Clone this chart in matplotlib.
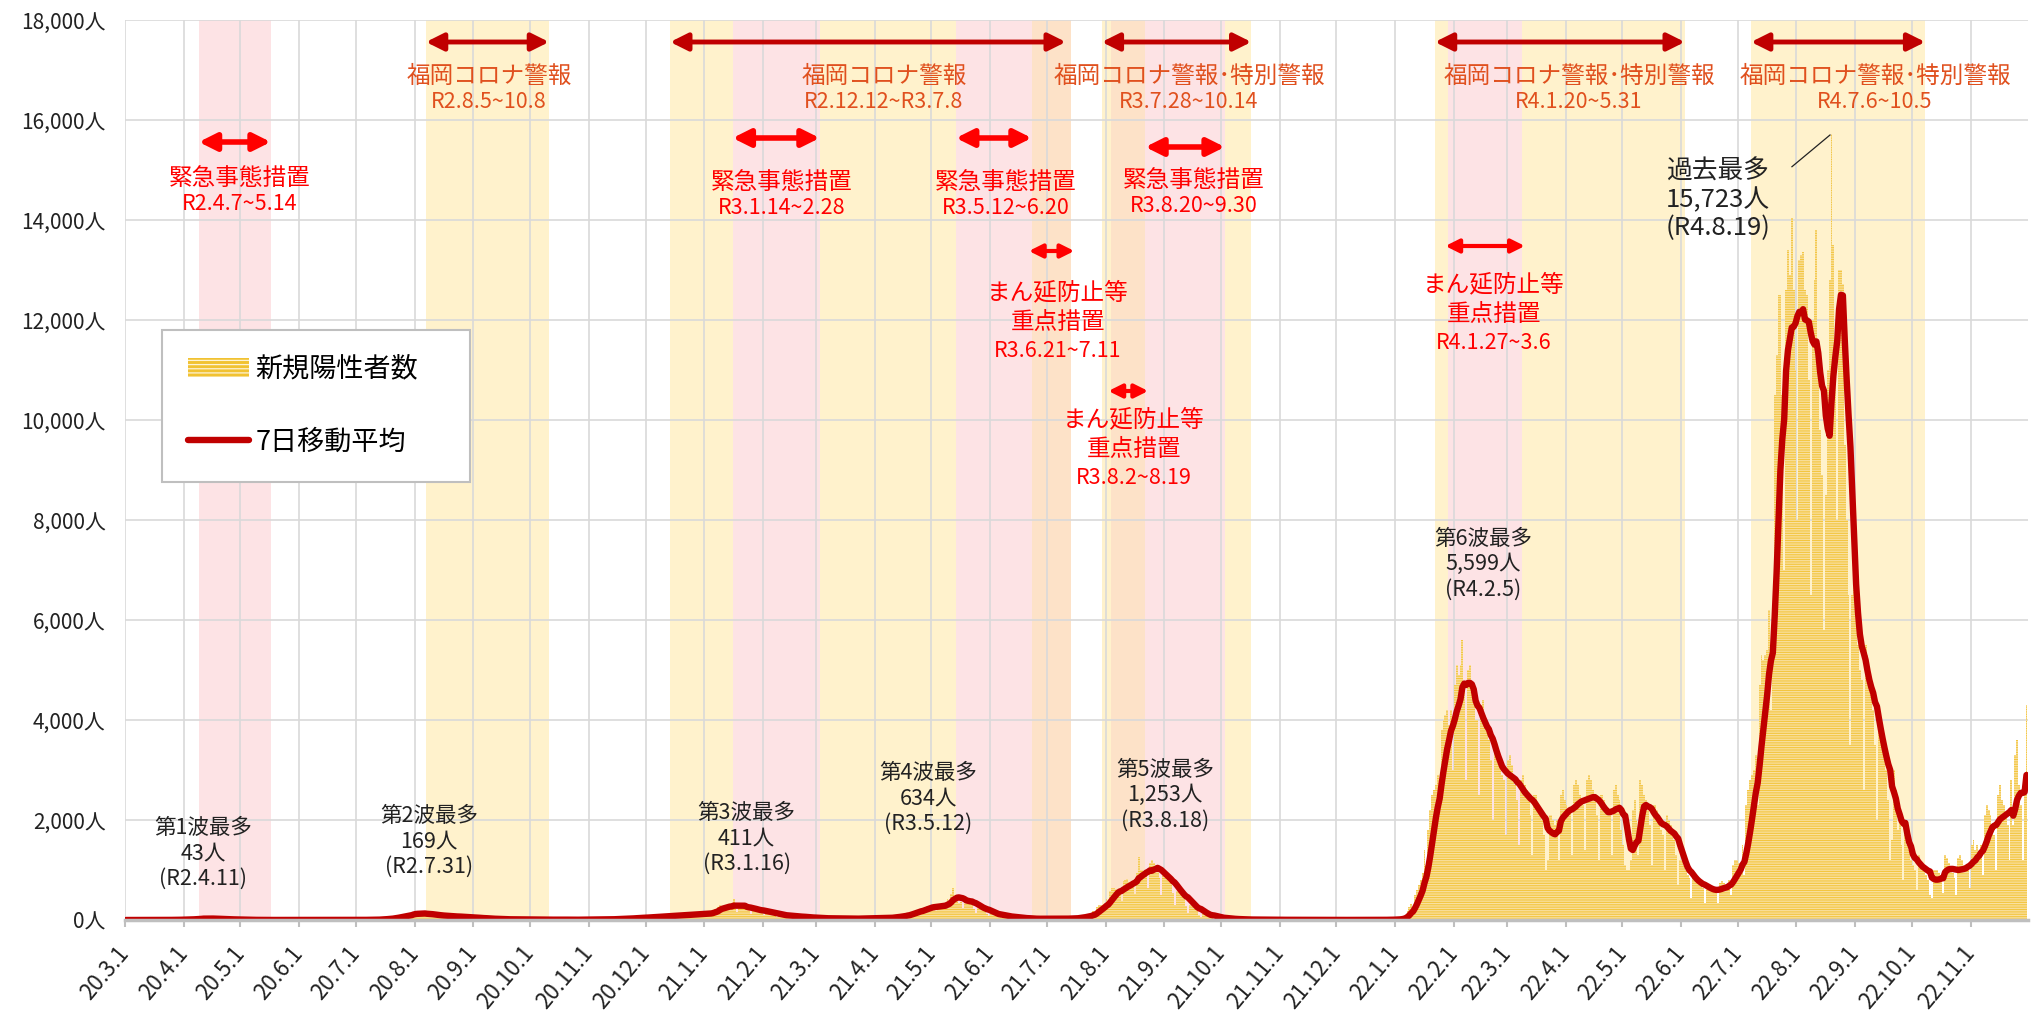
import matplotlib
matplotlib.use("Agg")
import matplotlib.pyplot as plt
import matplotlib.patches as mpatches
import matplotlib.lines as mlines
import numpy as np
import pandas as pd

plt.rcParams['font.family'] = ['Noto Sans CJK JP', 'DejaVu Sans']
plt.rcParams['hatch.linewidth'] = 0.9

# daily new cases (Sun..Sat rows)
cases_2020 = [
    0, 0, 0, 1, 1, 2, 1,            # 3/1~
    0, 0, 1, 2, 1, 1, 2,
    1, 0, 2, 1, 2, 1, 2,
    2, 1, 3, 4, 3, 5, 6,
    8, 5, 10, 12, 13, 12, 14,       # 3/29~
    20, 12, 25, 30, 28, 32, 43,
    25, 15, 28, 30, 27, 26, 24,
    18, 10, 16, 18, 15, 14, 13,
    10, 4, 9, 10, 8, 7, 8,
    4, 1, 3, 4, 2, 3, 2,            # 5/3~
    1, 0, 1, 2, 1, 1, 0,
    1, 0, 1, 1, 0, 1, 1,
    0, 0, 1, 0, 1, 0, 1,
    2, 1, 3, 3, 2, 2, 1,            # 5/31~
    1, 0, 1, 1, 2, 1, 1,
    0, 0, 1, 0, 1, 1, 0,
    1, 0, 1, 1, 2, 1, 1,
    2, 1, 2, 3, 2, 3, 3,            # 6/28~
    4, 2, 5, 6, 6, 7, 8,
    12, 8, 18, 22, 25, 26, 30,
    40, 30, 55, 65, 70, 75, 80,
    90, 70, 110, 130, 125, 169, 140,  # 7/26~
    120, 80, 130, 140, 135, 130, 125,
    95, 60, 100, 105, 100, 95, 90,
    75, 45, 80, 85, 80, 75, 70,
    60, 40, 65, 70, 65, 60, 60,
    45, 25, 45, 50, 45, 40, 38,     # 8/30~
    28, 15, 28, 30, 28, 25, 24,
    17, 9, 18, 18, 16, 15, 14,
    11, 6, 12, 12, 11, 10, 9,
    9, 5, 9, 10, 9, 8, 8,           # 9/27~
    6, 4, 7, 7, 6, 6, 6,
    8, 5, 9, 9, 8, 9, 8,
    5, 3, 6, 6, 5, 5, 5,
    8, 5, 9, 9, 9, 8, 8,
    10, 6, 11, 12, 11, 10, 10,      # 11/1~
    15, 9, 16, 18, 17, 16, 15,
    25, 15, 27, 30, 28, 27, 26,
    40, 25, 45, 48, 45, 43, 42,
    55, 35, 60, 65, 62, 60, 58,     # 11/29~
    70, 45, 75, 85, 80, 78, 75,
    90, 60, 95, 105, 100, 98, 95,
    105, 70, 110, 125, 120, 115, 115,
    120, 80, 130, 140, 135,         # 12/27~12/31
]

cases_2021 = [
    130, 125,                                   # 1/1~1/2
    150, 100, 180, 220, 230, 260, 300,          # 1/3~
    280, 180, 270, 300, 290, 280, 411,
    280, 170, 280, 300, 290, 270, 260,
    210, 130, 220, 240, 220, 200, 190,
    160, 100, 165, 180, 165, 150, 140,          # 1/31~
    100, 60, 100, 115, 105, 95, 90,
    75, 45, 75, 85, 78, 72, 70,
    52, 32, 55, 60, 56, 52, 50,
    37, 22, 38, 42, 40, 36, 35,                 # 2/28~
    31, 18, 32, 36, 34, 31, 30,
    26, 15, 27, 30, 28, 26, 25,
    31, 18, 32, 36, 34, 31, 30,
    36, 21, 38, 42, 40, 36, 35,                 # 3/28~
    46, 27, 48, 54, 50, 46, 44,
    75, 45, 85, 95, 90, 85, 85,
    140, 90, 165, 185, 180, 175, 185,
    230, 150, 260, 290, 270, 265, 285,          # 4/25~
    280, 180, 290, 330, 310, 300, 310,
    420, 300, 520, 634, 480, 460, 350,
    370, 240, 400, 440, 420, 400, 320,
    230, 150, 250, 280, 260, 240, 200,
    120, 80, 130, 150, 135, 125, 100,           # 5/30~
    70, 45, 75, 85, 80, 75, 60,
    40, 25, 45, 50, 45, 40, 35,
    25, 15, 28, 30, 28, 26, 24,
    25, 15, 27, 30, 28, 25, 24,                 # 6/27~
    25, 15, 27, 30, 28, 26, 24,
    35, 20, 38, 42, 40, 37, 33,
    70, 40, 85, 95, 100, 90, 80,
    180, 120, 260, 300, 310, 300, 280,          # 7/25~
    420, 300, 580, 650, 640, 620, 600,
    600, 380, 780, 800, 830, 770, 740,
    780, 520, 950, 1253, 1000, 1000, 900,
    1000, 650, 1150, 1200, 1150, 1100, 1050,
    850, 500, 900, 950, 900, 850, 800,          # 8/29~
    550, 300, 580, 600, 560, 520, 480,
    280, 150, 300, 310, 280, 250, 220,
    110, 60, 120, 130, 115, 100, 90,
    50, 25, 55, 55, 50, 45, 40,                 # 9/26~
    22, 12, 25, 25, 22, 20, 18,
    11, 6, 12, 12, 11, 10, 9,
    7, 3, 7, 8, 7, 6, 6,
    5, 2, 5, 6, 5, 5, 4,                        # 10/24~
    4, 2, 4, 5, 4, 4, 3,
    3, 1, 4, 4, 3, 3, 3,
    2, 1, 3, 3, 2, 2, 2,
    2, 1, 2, 3, 2, 2, 2,                        # 11/21~
    1, 1, 2, 2, 1, 1, 2,
    2, 1, 2, 2, 2, 1, 1,
    2, 1, 2, 3, 2, 2, 2,
    3, 2, 3, 4, 3, 3, 3,                        # 12/19~
    5, 3, 6, 8, 9, 12,                          # 12/26~12/31
]

cases_2022 = [
    15,                                                   # 1/1
    20, 15, 35, 60, 100, 180, 260,                        # 1/2~
    330, 250, 500, 600, 700, 800, 950,
    1400, 1100, 1800, 2200, 2500, 2600, 2700,
    2900, 2300, 3800, 4000, 4100, 4200, 3900,
    4200, 3000, 4700, 5100, 4900, 5100, 5599,             # 1/30~
    4700, 2800, 5000, 5100, 4700, 4400, 4000,
    4000, 2500, 4300, 4400, 4100, 3800, 3600,
    3200, 2000, 3500, 3500, 3300, 3100, 2900,
    2800, 1700, 3200, 3300, 3100, 2900, 2700,             # 2/27~
    2400, 1500, 2800, 2900, 2700, 2600, 2400,
    2100, 1300, 2500, 2500, 2300, 2200, 2000,
    1700, 1000, 1200, 2100, 2100, 2000, 1900,
    2000, 1200, 2500, 2600, 2400, 2300, 2200,             # 3/27~
    2200, 1300, 2700, 2800, 2700, 2500, 2400,
    2300, 1400, 2800, 2900, 2800, 2600, 2400,
    2100, 1200, 2500, 2500, 2400, 2300, 2100,
    2100, 1300, 2600, 2700, 2500, 2400, 1800,             # 4/24~
    1500, 1100, 1000, 1000, 1200, 2200, 2400,
    2000, 1300, 2800, 2700, 2500, 2400, 2200,
    1900, 1100, 2300, 2300, 2200, 2000, 1800,
    1700, 1000, 2100, 2000, 1900, 1800, 1600,
    1300, 700, 1200, 1200, 1100, 1000, 900,               # 5/29~
    850, 450, 850, 850, 800, 750, 700,
    650, 350, 700, 700, 650, 620, 600,
    600, 350, 750, 780, 750, 700, 680,
    800, 500, 1100, 1200, 1200, 1150, 1100,               # 6/26~
    1500, 900, 2300, 2600, 2800, 2900, 3000,
    3300, 2300, 4700, 5300, 5200, 5300, 5400,
    6200, 4200, 5800, 10500, 11300, 12500, 12500,
    10500, 7000, 12600, 13400, 12900, 14050, 12600,       # 7/24~
    11000, 8000, 13200, 13300, 13360, 12600, 12500,
    10800, 6500, 12000, 12800, 13800, 11000, 9800,
    8900, 5800, 8500, 11000, 12800, 15723, 13500,         # 8/14~
    11500, 8000, 13000, 13000, 12720, 9500, 8000,
    6500, 3500, 6500, 6800, 6200, 5500, 5000,             # 8/28~
    4800, 2600, 5500, 5300, 4900, 4500, 4200,
    3500, 2000, 3900, 3800, 3500, 3200, 3000,
    2400, 1200, 1600, 3000, 2600, 1800, 2200,
    1500, 800, 1700, 1500, 1400, 1200, 1100,              # 9/25~
    1000, 600, 1300, 1200, 1100, 1000, 900,
    800, 500, 450, 1000, 1000, 1000, 950,
    900, 550, 1300, 1250, 1150, 1050, 950,
    850, 500, 1250, 1300, 1200, 1100, 1050,
    1050, 650, 1500, 1600, 1400, 1500, 1300,              # 10/30~
    1500, 900, 2100, 2300, 2200, 2100, 1900,
    1700, 1000, 2500, 2700, 2400, 2300, 2100,
    1900, 1200, 2800, 1900, 3300, 3600, 2700,
    2300, 1200, 2900, 4300,                               # 11/27~11/30
]

# alert / measure periods
keiho_periods = [("2020-08-05", "2020-10-08"), ("2020-12-12", "2021-07-08"),
                 ("2021-07-28", "2021-10-14"), ("2022-01-20", "2022-05-31"),
                 ("2022-07-06", "2022-10-05")]
kinkyu_periods = [("2020-04-07", "2020-05-14"), ("2021-01-14", "2021-02-28"),
                  ("2021-05-12", "2021-06-20"), ("2021-08-20", "2021-09-30")]
manen_periods = [("2021-06-21", "2021-07-11"), ("2021-08-02", "2021-08-19"),
                 ("2022-01-27", "2022-03-06")]

keiho_titles = ["福岡コロナ警報", "福岡コロナ警報", "福岡コロナ警報･特別警報",
                "福岡コロナ警報･特別警報", "福岡コロナ警報･特別警報"]
keiho_labels = ["R2.8.5~10.8", "R2.12.12~R3.7.8", "R3.7.28~10.14",
                "R4.1.20~5.31", "R4.7.6~10.5"]
kinkyu_labels = ["R2.4.7~5.14", "R3.1.14~2.28", "R3.5.12~6.20", "R3.8.20~9.30"]
manen_labels = ["R3.6.21~7.11", "R3.8.2~8.19", "R4.1.27~3.6"]

wave_labels = ["第1波最多\n43人\n(R2.4.11)", "第2波最多\n169人\n(R2.7.31)",
               "第3波最多\n411人\n(R3.1.16)", "第4波最多\n634人\n(R3.5.12)",
               "第5波最多\n1,253人\n(R3.8.18)", "第6波最多\n5,599人\n(R4.2.5)"]
record_label = "過去最多\n15,723人\n(R4.8.19)"

start = pd.Timestamp("2020-03-01")
cases = cases_2020 + cases_2021 + cases_2022
days = np.arange(len(cases))
avg7 = pd.Series(cases, dtype=float).rolling(7, min_periods=1).mean()


def day(s):
    return (pd.Timestamp(s) - start).days


YELLOW = "#fff2cc"
PINK = "#fde3e5"
PEACH = "#fde2c8"
GOLD = "#f3c640"
HATCH = "#f9e0a0"
DARKRED = "#c00000"
RED = "#ff0000"
KEIHO_TXT = "#e0501e"
SHIFT = 2

fig = plt.figure(figsize=(20.33, 10.13), dpi=100)
ax = fig.add_axes([125 / 2033, 1 - 920 / 1013, 1903 / 2033, 900 / 1013])

# shaded periods
for s, e in keiho_periods:
    ax.axvspan(day(s) + SHIFT, day(e) + 1 + SHIFT, color=YELLOW, lw=0, zorder=0.1)
for s, e in kinkyu_periods:
    ax.axvspan(day(s) + SHIFT, day(e) + 1 + SHIFT, color=PINK, lw=0, zorder=0.2)
for i, (s, e) in enumerate(manen_periods):
    ax.axvspan(day(s) + SHIFT, day(e) + 1 + SHIFT, color=PEACH if i < 2 else PINK,
               lw=0, zorder=0.2)

ax.bar(days, cases, width=1.0, align='edge', color=GOLD, edgecolor=HATCH,
       hatch='-' * 7, linewidth=0, zorder=2)
ax.plot(days + 0.5, avg7, color=DARKRED, lw=4.6, zorder=3,
        solid_joinstyle='round', solid_capstyle='round')

ax.set_xlim(0, 1005.3)
ax.set_ylim(0, 18000)

months = pd.date_range("2020-03-01", "2022-11-01", freq="MS")
ax.set_xticks([day(m) for m in months])
ax.set_xticklabels([f"{m.year % 100}.{m.month}.1" for m in months], fontsize=16,
                   rotation=50, ha='right', va='center', rotation_mode='anchor')
yt = list(range(0, 18001, 2000))
ax.set_yticks(yt)
ax.set_yticklabels([f"{v:,}人" for v in yt], fontsize=15)

ax.grid(True, color="#d9d9d9", lw=1.2)
ax.set_axisbelow(True)
for side in ['top', 'left', 'right']:
    ax.spines[side].set_visible(False)
ax.spines['bottom'].set_color("#bfbfbf")
ax.spines['bottom'].set_linewidth(2.5)
ax.spines['bottom'].set_zorder(4)
ax.tick_params(axis='x', length=5, width=1.5, color="#bfbfbf", pad=16, labelcolor="#222222")
ax.tick_params(axis='y', length=0, pad=14, labelcolor="#222222")


def arrow(x0, x1, y, color, lw, ms):
    ax.annotate('', xy=(x1, y), xytext=(x0, y),
                arrowprops=dict(arrowstyle='<|-|>', color=color, lw=lw,
                                mutation_scale=ms, shrinkA=0, shrinkB=0), zorder=5)


# 福岡コロナ警報
keiho_text_x = [192.3, 400.9, 562.1, 768.1, 924.5]
for (s, e), t, lab, xt in zip(keiho_periods, keiho_titles, keiho_labels, keiho_text_x):
    arrow(day(s) + SHIFT, day(e) + 1 + SHIFT, 17560, DARKRED, 3.5, 26)
    ax.text(xt, 16880, t, color=KEIHO_TXT, fontsize=17, ha='center', va='center', zorder=5)
    ax.text(xt, 16360, lab, color=KEIHO_TXT, fontsize=15.5, ha='center', va='center', zorder=5)

# 緊急事態措置
kinkyu_text_x = [60.75, 347.1, 465.1, 564.4]
kinkyu_arrow_y = [15560, 15640, 15640, 15460]
kinkyu_title_y = [14840, 14760, 14760, 14800]
for (s, e), lab, xt, ya, yt0 in zip(kinkyu_periods, kinkyu_labels, kinkyu_text_x,
                                     kinkyu_arrow_y, kinkyu_title_y):
    arrow(day(s) + SHIFT, day(e) + 1 + SHIFT, ya, RED, 4, 26)
    ax.text(xt, yt0, "緊急事態措置", color=RED, fontsize=17, ha='center', va='center', zorder=5)
    ax.text(xt, yt0 - 520, lab, color=RED, fontsize=15.5, ha='center', va='center', zorder=5)

# まん延防止等重点措置
manen_text_x = [492.9, 533.0, 723.2]
manen_arrow_y = [13380, 10580, 13480]
manen_title_y = [12540, 10000, 12700]
for (s, e), lab, xt, ya, yt0 in zip(manen_periods, manen_labels, manen_text_x,
                                     manen_arrow_y, manen_title_y):
    arrow(day(s) + SHIFT - 1.5, day(e) + 1 + SHIFT + 1.5, ya, RED, 3, 20)
    ax.text(xt, yt0, "まん延防止等", color=RED, fontsize=17, ha='center', va='center', zorder=5)
    ax.text(xt, yt0 - 590, "重点措置", color=RED, fontsize=17, ha='center', va='center', zorder=5)
    ax.text(xt, yt0 - 1150, lab, color=RED, fontsize=15.5, ha='center', va='center', zorder=5)

# wave peaks
wave_x = [41.2, 160.6, 328.4, 424.2, 549.4, 717.4]
wave_y = [1340, 1566, 1640, 2426, 2500, 7120]
for lab, xw, yw in zip(wave_labels, wave_x, wave_y):
    ax.text(xw, yw, lab, color="#222222", fontsize=15.5, ha='center', va='center',
            linespacing=1.2, zorder=5)

ax.text(841.5, 14400, record_label, color="#222222", fontsize=18.5, ha='center',
        va='center', linespacing=1.1, zorder=5)
ax.plot([880.6, 900.7], [15066, 15700], color="#222222", lw=0.9, zorder=5)

# legend
h_bar = mpatches.Patch(facecolor="#f1c232", edgecolor="#fdf3d6", hatch='-' * 4, lw=0)
h_line = mlines.Line2D([], [], color=DARKRED, lw=4.6, solid_capstyle='round')
leg = ax.legend([h_bar, h_line], ["新規陽性者数", "7日移動平均"],
                loc='upper left',
                bbox_to_anchor=(162 / 2033, 1 - 479 / 1013, 308 / 2033, 149 / 1013),
                bbox_transform=fig.transFigure, mode='expand', fontsize=19.5,
                frameon=True, fancybox=False, edgecolor="#bfbfbf", framealpha=1,
                borderpad=0.95, labelspacing=1.7, handlelength=2.25, handletextpad=0.25,
                borderaxespad=0)
leg.get_frame().set_linewidth(1.5)
leg.set_zorder(6)

fig.savefig("out.png", dpi=100)
